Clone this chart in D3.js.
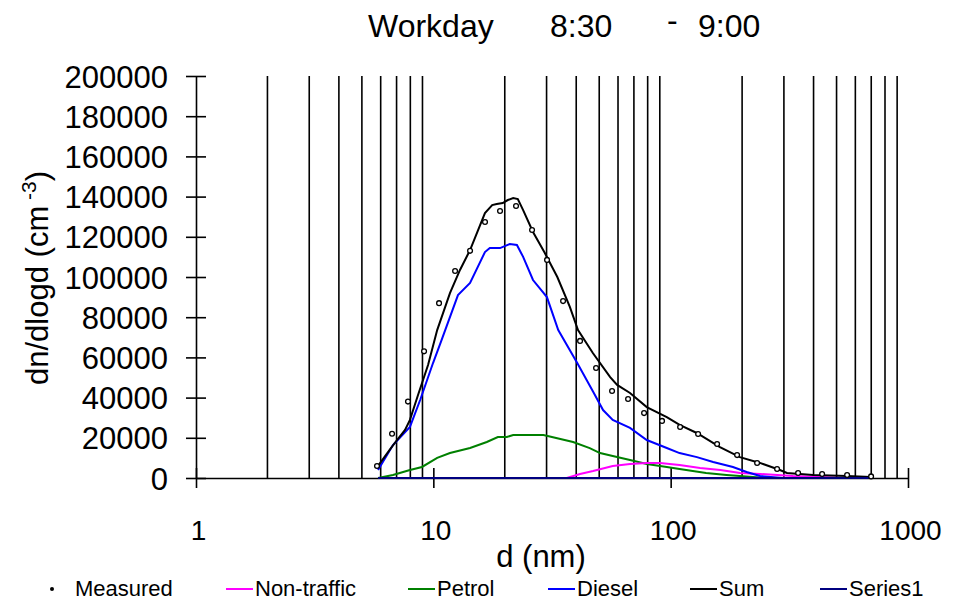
<!DOCTYPE html>
<html lang="en">
<head>
  <meta charset="UTF-8">
  <title>Workday 8:30 - 9:00</title>
  <script src="https://d3js.org/d3.v7.min.js"></script>
  <style>
    body { margin: 0; background: #fff; }
    text { font-family: "Liberation Sans", Arial, sans-serif; fill: #000; }
  </style>
</head>
<body>
  <div id="chart"></div>

  <script>
    // particle diameter (nm) and dn/dlogd values
    const measuredD = [5.79, 6.70, 7.82, 9.14, 10.57, 12.35, 14.28, 16.51, 19.10, 22.31, 26.06, 30.14, 35.21, 41.52,
      48.49, 56.63, 66.15, 77.26, 91.98, 109.6, 130.5, 156.9, 190.5, 231.3, 280.8, 344.3, 434.6, 553.9, 699.0];
    const measuredV = [6000, 22000, 38000, 63000, 87000, 103000, 113000, 127400, 132800, 135300, 123400, 108500, 88000, 68200,
      54700, 43300, 39300, 32300, 28400, 25400, 21900, 16900, 11400, 7500, 4500, 2500, 2000, 1500, 800];

    const sumD = [5.85, 6.58, 7.03, 7.6, 7.97, 8.62, 9.5, 10.38, 11.75, 12.95, 14.28, 16.5, 17.7, 18.5, 19.6, 20.6, 21.7, 22.7,
      23.9, 26.3, 29.5, 33.3, 37.6, 40.7, 47.0, 55.6, 59.5, 67.4, 79.3, 96.3, 109.1, 128.8, 161.3, 195.8, 237.7, 288.6,
      309, 398, 554, 696];
    const sumV = [6000, 14400, 18900, 23900, 28900, 41300, 56200, 73600, 92000, 103500, 113400, 131800, 135800, 136300,
      136800, 138300, 139300, 138800, 133300, 122400, 111900, 100000, 85100, 73600, 62200, 50200, 46300, 42300, 35300,
      30300, 26400, 22400, 15400, 10400, 7500, 4000, 2500, 1500, 1000, 500];

    const dieselD = [5.85, 6.76, 7.97, 8.8, 9.97, 10.84, 12.7, 14.28, 16.5, 17.3, 19.1, 21.0, 22.5, 23.9, 26.3, 30.1, 33.6,
      40.4, 47.2, 51.9, 57.0, 67.4, 79.3, 96.3, 109, 129, 151, 183, 209, 238, 297];
    const dieselV = [4000, 16400, 25400, 38800, 57200, 68700, 91000, 97000, 112400, 114400, 114400, 116400, 115900, 110000,
      98500, 90000, 73600, 57200, 42800, 33800, 28900, 24900, 18900, 14900, 12400, 10400, 8000, 5500, 3000, 1000, 0];

    const petrolD = [5.85, 6.76, 7.97, 8.96, 10.38, 11.75, 14.28, 16.8, 18.7, 20.4, 21.7, 29.1, 31.6, 38.8, 45.6, 50.4, 57.0,
      67.4, 79.3, 96.3, 109, 141, 172, 222, 254];
    const petrolV = [0, 1500, 4000, 5500, 10000, 12400, 14900, 17900, 20400, 20400, 21400, 21400, 20400, 17900, 14900, 12400,
      10900, 9000, 7000, 5500, 4500, 2500, 1500, 500, 0];

    const nonTrafficD = [36.5, 41.5, 47.1, 57.0, 67.4, 79.3, 90.2, 109, 133, 162, 196, 238, 327, 424, 540];
    const nonTrafficV = [0, 2000, 3500, 6000, 7000, 7500, 7500, 6500, 5000, 4000, 2500, 2000, 1000, 500, 0];

    const series1D = [5.85, 700];
    const series1V = [0, 0];

    const xTicks = [1, 10, 100, 1000];
    const yTicks = [0, 20000, 40000, 60000, 80000, 100000, 120000, 140000, 160000, 180000, 200000];
    const gridD = [2, 3, 4, 5, 6, 7, 8, 9, 20, 30, 40, 50, 60, 70, 80, 90, 200, 300, 400, 500, 600, 700, 800, 900];

    const legendItems = [
      { name: "Measured", color: "#000", dot: true, x: 52 },
      { name: "Non-traffic", color: "#ff00ff", x: 226 },
      { name: "Petrol", color: "#008000", x: 408 },
      { name: "Diesel", color: "#0000ff", x: 548 },
      { name: "Sum", color: "#000000", x: 690 },
      { name: "Series1", color: "#000080", x: 820 }
    ];

    const width = 966;
    const height = 604;

    const svg = d3.select("#chart")
      .append("svg")
      .attr("width", width)
      .attr("height", height);

    const x = d3.scaleLog().domain([1, 1000]).range([196, 908]);
    const y = d3.scaleLinear().domain([0, 200000]).range([478, 76]);

    // vertical grid lines
    svg.append("g")
      .selectAll("line")
      .data(gridD)
      .enter().append("line")
      .attr("x1", d => x(d))
      .attr("x2", d => x(d))
      .attr("y1", y(200000))
      .attr("y2", y(0))
      .attr("stroke", "#000")
      .attr("stroke-width", 1.6);

    // y axis
    const yAxis = svg.append("g")
      .attr("transform", `translate(${x(1)},0)`)
      .call(d3.axisLeft(y).tickValues(yTicks).tickFormat(d3.format("d")).tickSize(10).tickSizeOuter(0).tickPadding(18));
    yAxis.select(".domain").attr("stroke", "#000").attr("stroke-width", 1.6);
    yAxis.selectAll(".tick line").attr("x1", 10).attr("x2", -10).attr("stroke-width", 1.6);
    yAxis.selectAll(".tick text")
      .style("font-size", "31px")
      .attr("dy", "0.36em");

    // x axis
    const xAxis = svg.append("g")
      .attr("transform", `translate(0,${y(0)})`)
      .call(d3.axisBottom(x).tickValues(xTicks).tickFormat(d3.format("d")).tickSize(10).tickSizeOuter(0));
    xAxis.select(".domain").attr("stroke", "#000").attr("stroke-width", 1.6);
    xAxis.selectAll(".tick line").attr("y1", -10).attr("y2", 10).attr("stroke-width", 1.6);
    xAxis.selectAll(".tick text")
      .style("font-size", "28px")
      .attr("dy", null)
      .attr("x", 2)
      .attr("y", 62);

    // series lines
    const line = d3.line()
      .x(d => x(d[0]))
      .y(d => y(d[1]));

    const series = [
      { d: petrolD, v: petrolV, color: "#008000" },
      { d: nonTrafficD, v: nonTrafficV, color: "#ff00ff" },
      { d: dieselD, v: dieselV, color: "#0000ff" },
      { d: sumD, v: sumV, color: "#000000" },
      { d: series1D, v: series1V, color: "#000080" }
    ];

    series.forEach(s => {
      svg.append("path")
        .datum(s.d.map((d, i) => [d, s.v[i]]))
        .attr("fill", "none")
        .attr("stroke", s.color)
        .attr("stroke-width", 2)
        .attr("d", line);
    });

    // measured points
    svg.append("g")
      .selectAll("circle")
      .data(measuredD.map((d, i) => [d, measuredV[i]]))
      .enter().append("circle")
      .attr("cx", d => x(d[0]))
      .attr("cy", d => y(d[1]))
      .attr("r", 2.4)
      .attr("fill", "#fff")
      .attr("stroke", "#000")
      .attr("stroke-width", 1.3);

    // title
    const title = [["Workday", 368, 0], ["8:30", 550, 0], ["-", 667, -6], ["9:00", 698, 0]];
    svg.append("g")
      .selectAll("text")
      .data(title)
      .enter().append("text")
      .attr("x", d => d[1])
      .attr("y", d => 37 + d[2])
      .style("font-size", "32px")
      .text(d => d[0]);

    // axis titles
    svg.append("text")
      .attr("x", 541)
      .attr("y", 567)
      .attr("text-anchor", "middle")
      .style("font-size", "31px")
      .text("d (nm)");

    const yTitle = svg.append("text")
      .attr("transform", "translate(48,385) rotate(-90)")
      .style("font-size", "31px");
    yTitle.append("tspan").text("dn/dlogd (cm");
    yTitle.append("tspan").attr("dy", -12).style("font-size", "21px").text(" -3");
    yTitle.append("tspan").attr("dy", 12).text(")");

    // legend
    const legend = svg.append("g")
      .selectAll("g")
      .data(legendItems)
      .enter().append("g")
      .attr("transform", d => `translate(${d.x},589)`);

    legend.filter(d => d.dot).append("circle")
      .attr("r", 2)
      .attr("fill", "#000");

    legend.filter(d => !d.dot).append("line")
      .attr("x1", 0)
      .attr("x2", 27)
      .attr("stroke", d => d.color)
      .attr("stroke-width", 2);

    legend.append("text")
      .attr("x", d => d.dot ? 23 : 29)
      .attr("y", 7)
      .style("font-size", "22px")
      .text(d => d.name);
  </script>
</body>
</html>
